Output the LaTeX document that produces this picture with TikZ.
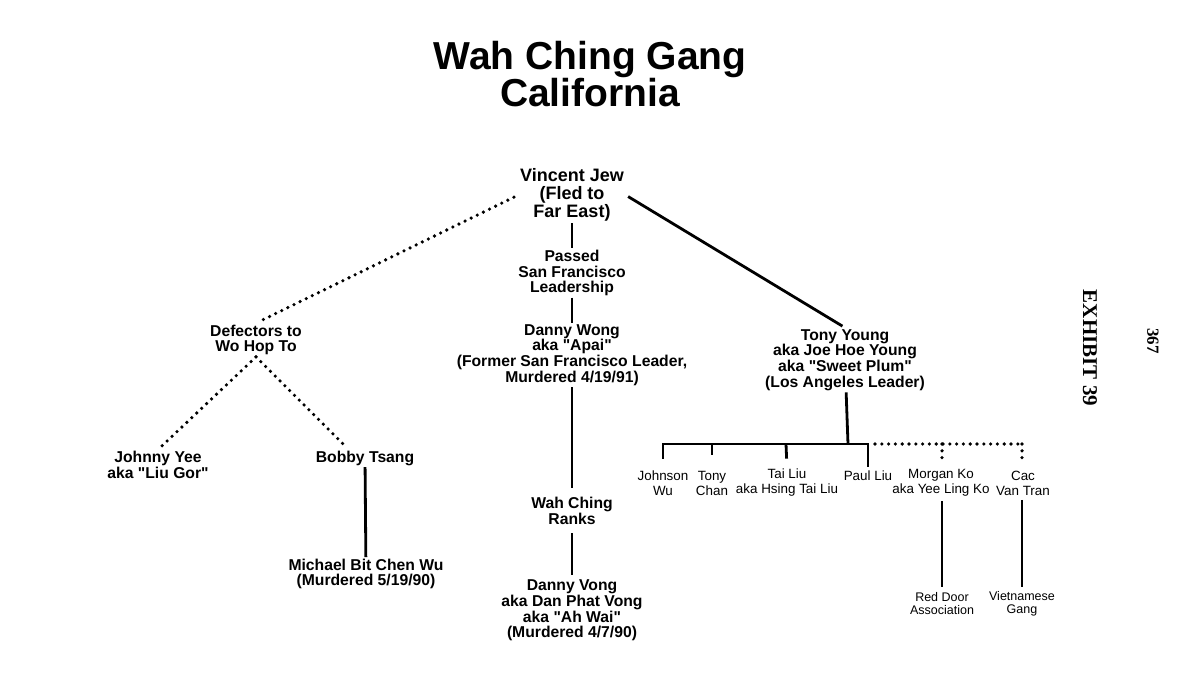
\documentclass[tikz,border=0pt]{standalone}
\usepackage{fontspec}
\setmainfont{Liberation Sans}
\newfontfamily\exhfont{Liberation Serif}
\usetikzlibrary{calc}
\newcommand{\qq}{\textquotedbl}
\begin{document}
\begin{tikzpicture}[x=1bp,y=-1bp,
  every node/.style={inner sep=1.5bp, align=center},
  titlestyle/.style={font=\fontsize{39bp}{37.5bp}\selectfont\bfseries},
  topstyle/.style={font=\fontsize{18bp}{18bp}\selectfont\bfseries},
  mainstyle/.style={font=\fontsize{15.7bp}{15.7bp}\selectfont\bfseries},
  smallstyle/.style={font=\fontsize{13.4bp}{15bp}\selectfont},
  tinystyle/.style={font=\fontsize{12.5bp}{13.5bp}\selectfont},
  solidline/.style={line width=2.8bp},
  dotline/.style={line width=3.6bp, line cap=round, dash pattern=on 0bp off 6.8bp},
]
\useasboundingbox (0,0) rectangle (1200,675);

% title
\node[titlestyle] (title) at (590,74) {Wah Ching Gang\\California};

% exhibit marks
\node[rotate=-90, font=\exhfont\fontsize{21bp}{22bp}\selectfont\bfseries] (exh) at (1090,348) {EXHIBIT 39};
\node[rotate=-90, font=\exhfont\fontsize{17bp}{18bp}\selectfont\bfseries] (pg) at (1153,341) {367};

% centre column
\node[topstyle] (vj) at (572,195) {Vincent Jew\\(Fled to\\Far East)};
\node[mainstyle] (passed) at (572,273) {Passed\\San Francisco\\Leadership};
\node[mainstyle] (dw) at (572,355) {Danny Wong\\aka \qq Apai\qq\\(Former San Francisco Leader,\\Murdered 4/19/91)};
\node[mainstyle] (ranks) at (572,511) {Wah Ching\\Ranks};
\node[mainstyle] (dv) at (572,610.5) {Danny Vong\\aka Dan Phat Vong\\aka \qq Ah Wai\qq\\(Murdered 4/7/90)};

% left branch
\node[mainstyle] (def) at (256,340) {Defectors to\\Wo Hop To};
\node[mainstyle] (jy) at (158,465) {Johnny Yee\\aka \qq Liu Gor\qq};
\node[mainstyle] (bt) at (365,458) {Bobby Tsang};
\node[mainstyle] (mw) at (366,574) {Michael Bit Chen Wu\\(Murdered 5/19/90)};

% right branch
\node[mainstyle] (ty) at (845,360) {Tony Young\\aka Joe Hoe Young\\aka \qq Sweet Plum\qq\\(Los Angeles Leader)};
\node[smallstyle] (jw) at (663,483) {Johnson\\Wu};
\node[smallstyle] (tc) at (712,483) {Tony\\Chan};
\node[smallstyle] (tl) at (787,483) {Tai Liu\\aka Hsing Tai Liu};
\node[smallstyle] (pl) at (868,476) {Paul Liu};
\node[smallstyle] (mk) at (941,483) {Morgan Ko\\aka Yee Ling Ko};
\node[smallstyle] (cv) at (1023,483) {Cac\\Van Tran};
\node[tinystyle] (rd) at (942,603.5) {Red Door\\Association};
\node[tinystyle] (vg) at (1022,604) {Vietnamese\\Gang};

% bus coordinates
\coordinate (bJ) at (663,444);
\coordinate (bC) at (712,444);
\coordinate (bT) at (786,444);
\coordinate (bY) at (848,444);
\coordinate (bP) at (868,444);
\coordinate (bM) at (942,444);
\coordinate (bV) at (1022,444);

% centre connectors
\draw[solidline] (vj) -- (passed);
\draw[solidline] (passed) -- (dw);
\draw[solidline, shorten >=8bp] (dw) -- (ranks);
\draw[solidline, shorten <=7bp, shorten >=3bp] (ranks) -- (dv);

% left connectors
\draw[dotline, shorten <=5bp, shorten >=5bp] (vj.west) -- (def.north);
\draw[dotline, shorten >=3bp] (def.south) -- (jy.north);
\draw[dotline, shorten >=4bp] (def.south) -- ($(bt.north)+(-17,0)$);
\draw[solidline] (bt) -- (mw);

% right connectors
\draw[solidline, shorten <=3bp, shorten >=3bp] (vj.east) -- (ty.north);
\draw[solidline] (ty) -- (bY);
\draw[solidline, line cap=rect] (bJ) -- (bP);
\draw[solidline, shorten >=10bp] (bJ) -- (jw.north);
\draw[solidline, shorten >=14bp] (bC) -- (tc.north);
\draw[solidline, shorten >=9bp] (bT) -- (tl.north);
\draw[solidline, shorten >=2bp] (bP) -- (pl.north);
\draw[dotline] ($(bP)+(7,0)$) -- (bV);
\draw[dotline, shorten >=6bp] (bM) -- (mk.north -| bM);
\draw[dotline, shorten >=6bp] (bV) -- (cv.north -| bV);
\draw[solidline, shorten <=3bp, shorten >=3bp] (mk.south -| rd) -- (rd);
\draw[solidline, shorten <=3bp, shorten >=3bp] (cv.south -| vg) -- (vg);
\end{tikzpicture}
\end{document}
